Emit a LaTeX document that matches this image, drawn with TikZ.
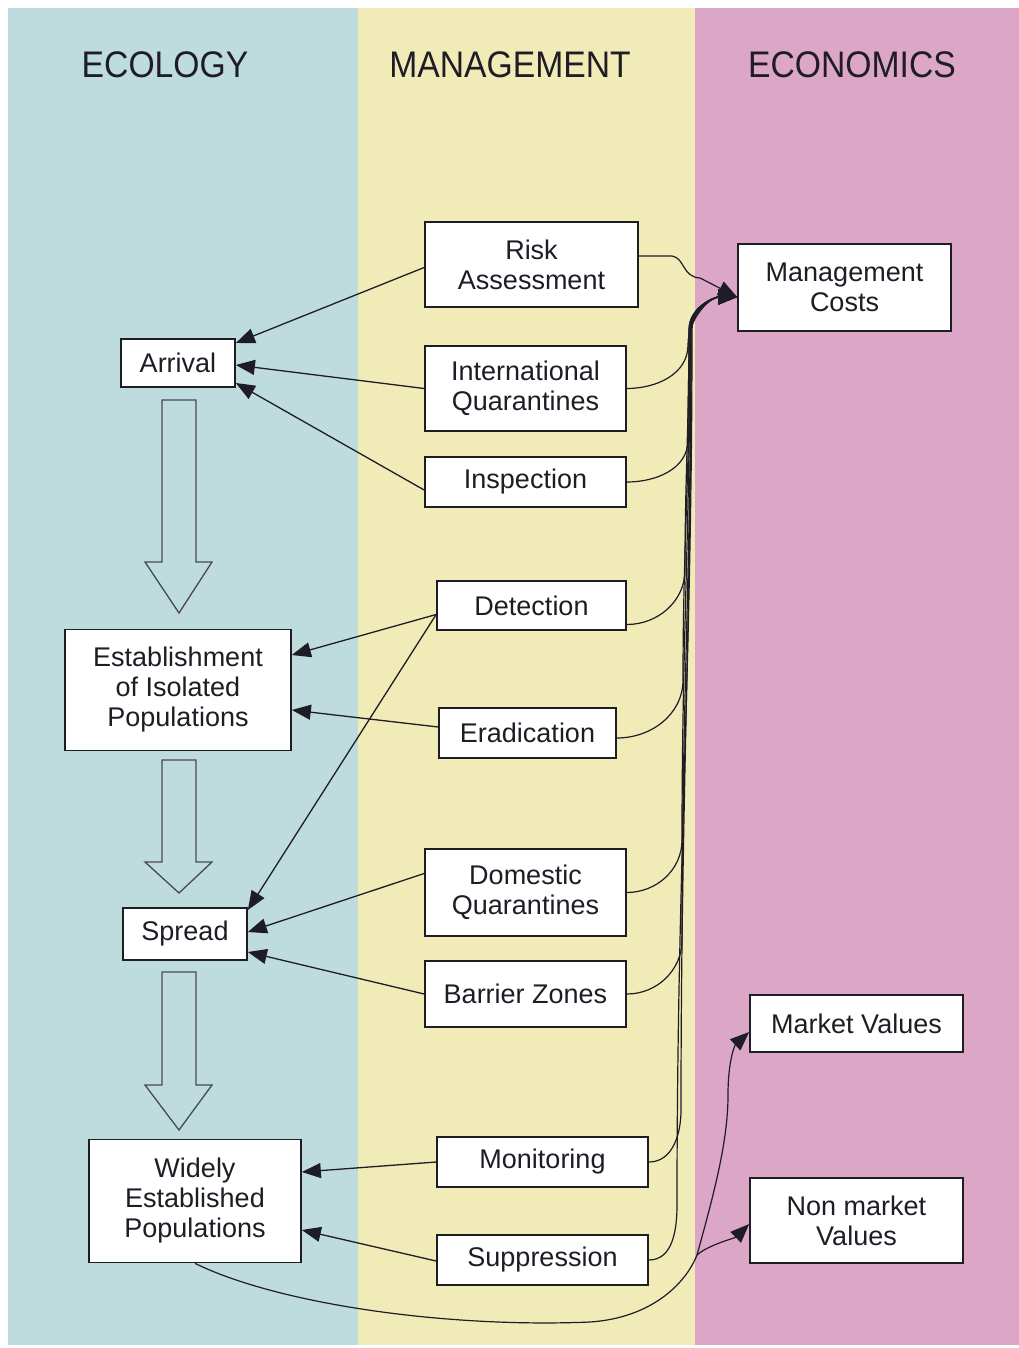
\documentclass[tikz,border=0pt]{standalone}
\usepackage{fontspec}
\setmainfont{Liberation Sans}
\newfontfamily\headfont[FakeStretch=0.91]{Liberation Sans}
\usetikzlibrary{arrows.meta,calc}
\definecolor{ecol}{HTML}{BEDCDE}
\definecolor{mgmt}{HTML}{F1EBB8}
\definecolor{econ}{HTML}{DCA6C6}
\definecolor{ink}{HTML}{1E1C24}
\begin{document}
\begin{tikzpicture}[x=1pt,y=-1pt,
 box/.style={draw=ink,line width=1.7pt,fill=white,inner sep=0pt,align=center,font=\fontsize{27}{30}\selectfont,text=ink},
 head/.style={font=\headfont\fontsize{37}{40}\selectfont,text=ink},
 conn/.style={draw=ink,line width=1.3pt,-{Triangle[length=19pt,width=15pt]}},
 curve/.style={draw=ink,line width=1.2pt,-{Triangle[length=19pt,width=15pt]}},
 bigarrow/.style={draw=ink!80,line width=1.3pt,fill=ecol,line join=miter}]
\useasboundingbox (0,0) rectangle (1019,1348);
\fill[ecol] (8,8) rectangle (358,1345);
\fill[mgmt] (358,8) rectangle (695,1345);
\fill[econ] (695,8) rectangle (1019,1345);

\node[head] (hEco) at (165,65) {ECOLOGY};
\node[head] (hMan) at (510,65) {MANAGEMENT};
\node[head] (hEcn) at (852,65) {ECONOMICS};

% ecology
\node[box,minimum width=114pt,minimum height=48pt] (arr) at (178,363) {Arrival};
\node[box,minimum width=226pt,minimum height=121pt] (est) at (178,690) {Establishment\\of Isolated\\Populations};
\node[box,minimum width=124pt,minimum height=52pt] (spr) at (185,934) {Spread};
\node[box,minimum width=212pt,minimum height=123pt] (wid) at (195,1201) {Widely\\Established\\Populations};

% management
\node[box,minimum width=213pt,minimum height=85pt] (risk) at (531.5,264.5) {Risk\\Assessment};
\node[box,minimum width=201pt,minimum height=85pt] (intq) at (525.5,388.5) {International\\Quarantines};
\node[box,minimum width=201pt,minimum height=50pt] (insp) at (525.5,482) {Inspection};
\node[box,minimum width=189pt,minimum height=49pt] (det) at (531.5,605.5) {Detection};
\node[box,minimum width=177pt,minimum height=50pt] (erad) at (527.5,733) {Eradication};
\node[box,minimum width=201pt,minimum height=87pt] (domq) at (525.5,892.5) {Domestic\\Quarantines};
\node[box,minimum width=201pt,minimum height=66pt] (barr) at (525.5,994) {Barrier Zones};
\node[box,minimum width=211pt,minimum height=50pt] (mon) at (542.5,1162) {Monitoring};
\node[box,minimum width=211pt,minimum height=50pt] (sup) at (542.5,1260) {Suppression};

% economics
\node[box,minimum width=213pt,minimum height=87pt] (mc) at (844.5,287.5) {Management\\Costs};
\node[box,minimum width=213pt,minimum height=57pt] (mv) at (856.5,1023.5) {Market Values};
\node[box,minimum width=213pt,minimum height=85pt] (nmv) at (856.5,1220.5) {Non market\\Values};

% big hollow arrows
\draw[bigarrow] (162,400) -- (196,400) -- (196,562) -- (212,562) -- (179,613) -- (145,562) -- (162,562) -- cycle;
\draw[bigarrow] (162,760) -- (196,760) -- (196,862) -- (212,862) -- (179,893) -- (145,862) -- (162,862) -- cycle;
\draw[bigarrow] (162,972) -- (196,972) -- (196,1085) -- (212,1085) -- (179,1130) -- (145,1085) -- (162,1085) -- cycle;

% management -> ecology
\draw[conn] ([yshift=-3pt]risk.west) -- ([yshift=20pt]arr.east);
\draw[conn] (intq.west) -- ([yshift=-2pt]arr.east);
\draw[conn] ([yshift=-8pt]insp.west) -- ([yshift=-20pt]arr.east);
\draw[conn] ([yshift=-9pt]det.west) -- ([yshift=35pt]est.east);
\draw[conn] ([yshift=-9pt]det.west) -- ([yshift=24pt]spr.east);
\draw[conn] ([yshift=6pt]erad.west) -- ([yshift=-20pt]est.east);
\draw[conn] ([yshift=19pt]domq.west) -- ([yshift=2pt]spr.east);
\draw[conn] (barr.west) -- ([yshift=-18pt]spr.east);
\draw[conn] (mon.west) -- ([yshift=29pt]wid.east);
\draw[conn] ([yshift=-1pt]sup.west) -- ([yshift=-29pt]wid.east);

% management -> management costs
\coordinate (mcin) at ([yshift=-9.5pt]mc.west);
\draw[curve] ([yshift=8.5pt]risk.east) -- (672,256) .. controls (685,258) and (682,277) .. (700,278) -- (mcin);
\draw[curve] (intq.east) to[out=0,in=-90] (688,345) to[out=90,in=180] (mcin);
\draw[curve] (insp.east) to[out=0,in=-90] (688,440) to[out=90,in=-90] (689,330) to[out=90,in=180] (mcin);
\draw[curve] ([yshift=-19pt]det.east) to[out=0,in=-90] (685,570) to[out=90,in=-90] (689,330) to[out=90,in=180] (mcin);
\draw[curve] ([yshift=-5pt]erad.east) to[out=0,in=-90] (683,680) to[out=90,in=-90] (690,330) to[out=90,in=180] (mcin);
\draw[curve] (domq.east) to[out=0,in=-90] (682,840) to[out=90,in=-90] (690,330) to[out=90,in=180] (mcin);
\draw[curve] (barr.east) to[out=0,in=-90] (682,940) to[out=90,in=-90] (691,330) to[out=90,in=180] (mcin);
\draw[curve] (mon.east) to[out=0,in=-90] (681,1110) to[out=90,in=-90] (691,330) to[out=90,in=180] (mcin);
\draw[curve] (sup.east) to[out=0,in=-90] (677,1205) to[out=90,in=-90] (692,330) to[out=90,in=180] (mcin);

% widely established -> values
\coordinate (split) at (697,1255);
\draw[curve] (wid.south) .. controls (280,1305) and (450,1328) .. (590,1322) .. controls (650,1318) and (685,1285) .. (split) .. controls (708,1245) and (735,1238) .. ([yshift=-3.5pt]nmv.west);
\draw[curve] (split) .. controls (715,1190) and (728,1140) .. (728,1095) .. controls (728,1060) and (735,1045) .. ([yshift=-8.5pt]mv.west);
\end{tikzpicture}
\end{document}
